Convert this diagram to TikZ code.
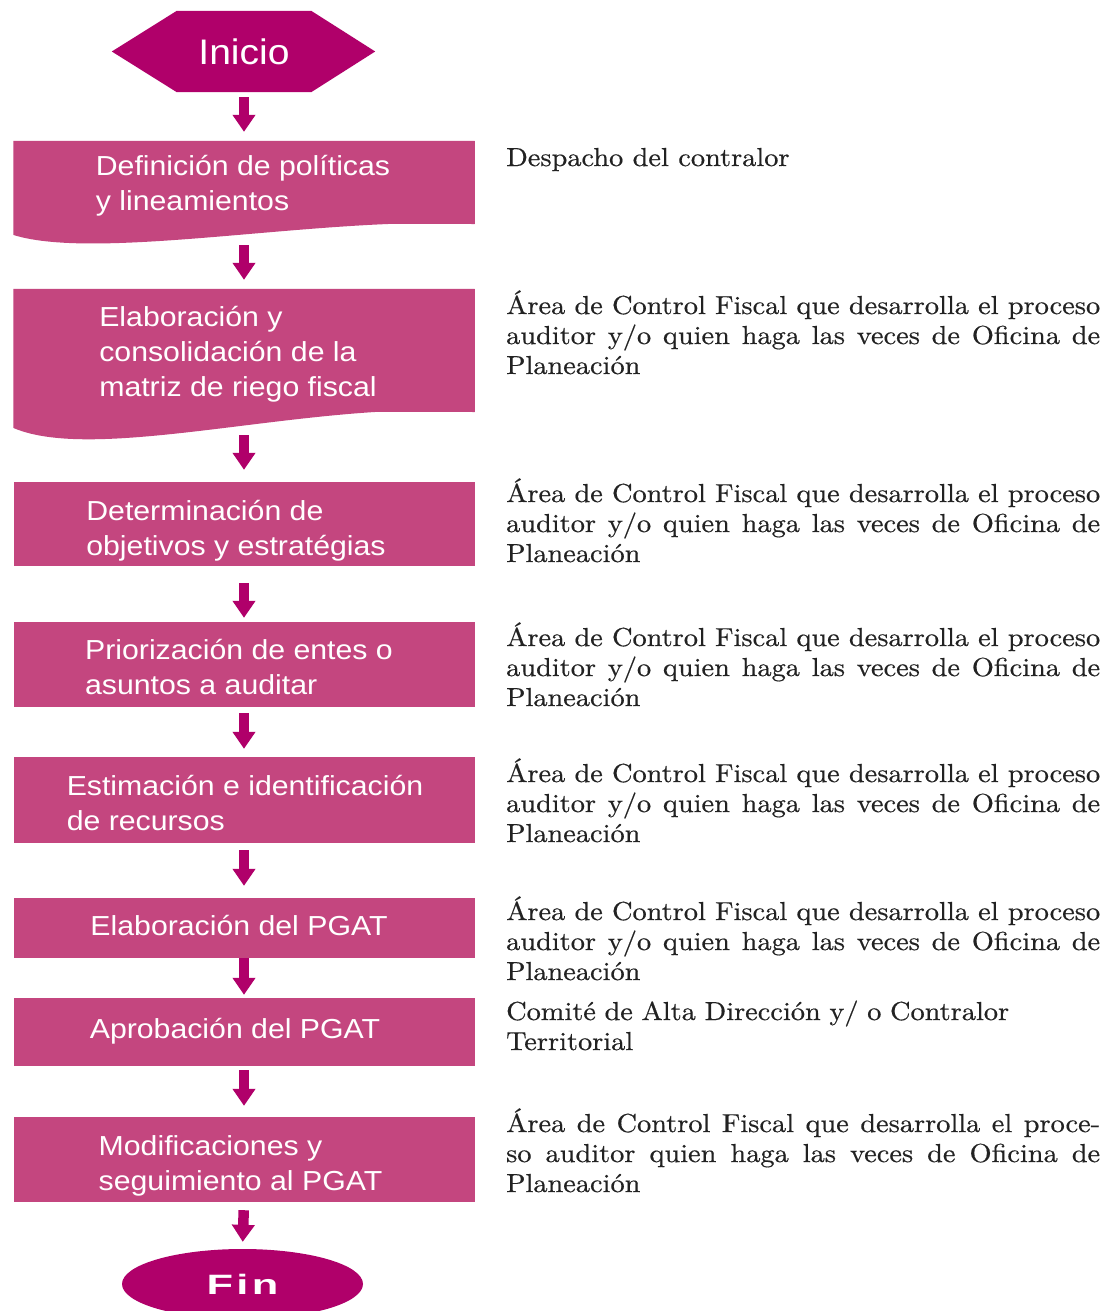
\documentclass[tikz,border=0pt]{standalone}
\usepackage{fontspec}
\newfontfamily\boxfont{Liberation Sans}[FakeStretch=1.1]
\newfontfamily\finfont{Liberation Sans}[FakeStretch=1.55,LetterSpace=12]
\newfontfamily\notefont{lmroman10-regular.otf}[FakeStretch=1.09,FakeBold=0.5]
\usetikzlibrary{arrows.meta,backgrounds,shapes.geometric}
\definecolor{magdark}{HTML}{B0006A}
\definecolor{magbox}{HTML}{C4467F}
\definecolor{inkgray}{HTML}{222222}

\begin{document}
\begin{tikzpicture}[x=1pt,y=-1pt,
  stepbox/.style={fill=magbox, minimum width=461pt, inner sep=0pt},
  boxtext/.style={inner sep=0pt, text=white, align=left,
    font=\boxfont\fontsize{27.5}{35}\selectfont},
  flow/.style={magdark, line width=10.5pt, -{Triangle[length=17pt,width=22pt]}},
  note/.style={anchor=base west, inner sep=0pt, text=inkgray, text width=594pt,
    align=justify, font=\notefont\fontsize{26}{30}\selectfont},
]
\useasboundingbox (0,0) rectangle (1106,1311);
\clip (0,0) rectangle (1106,1311);

% start terminal
\node[name=ini, minimum width=134pt, minimum height=81pt, inner sep=0pt, text=white,
  font=\boxfont\fontsize{35.5}{40}\selectfont] at (244,51.5) {Inicio};

% process steps
\node[stepbox, name=b1, minimum height=83pt,
  label={[boxtext, xshift=-1pt, yshift=-3pt]center:{Definición de políticas\\y lineamientos}}]
  at (244,182.5) {};
\node[stepbox, name=b2, minimum height=123pt,
  label={[boxtext, xshift=-6pt, yshift=-4pt]center:{Elaboración y\\consolidación de la\\matriz de riego fiscal}}]
  at (244,350.5) {};
\node[stepbox, name=b3, minimum height=84pt,
  label={[boxtext, xshift=-8pt, yshift=-7pt]center:{Determinación de\\objetivos y estratégias}}]
  at (244,524) {};
\node[stepbox, name=b4, minimum height=85pt,
  label={[boxtext, xshift=-5pt, yshift=-3pt]center:{Priorización de entes o\\asuntos a auditar}}]
  at (244,664.5) {};
\node[stepbox, name=b5, minimum height=86pt,
  label={[boxtext, xshift=1pt, yshift=-3pt]center:{Estimación e identificación\\de recursos}}]
  at (244,800) {};
\node[stepbox, name=b6, minimum height=60pt,
  label={[boxtext, xshift=-5pt, yshift=3pt]center:{Elaboración del PGAT}}]
  at (244,928) {};
\node[stepbox, name=b7, minimum height=68pt,
  label={[boxtext, xshift=-9pt, yshift=1pt]center:{Aprobación del PGAT}}]
  at (244,1032) {};
\node[stepbox, name=b8, minimum height=85pt,
  label={[boxtext, xshift=-3.5pt, yshift=-6pt]center:{Modificaciones y\\seguimiento al PGAT}}]
  at (244,1159.5) {};

% end terminal
\node[name=fin, ellipse, fill=magdark, minimum width=241pt, minimum height=70pt, inner sep=0pt,
  text=white, font=\finfont\bfseries\fontsize{28}{30}\selectfont] at (242.5,1284) {Fin};

% hexagon behind the start label, wavy bottoms of the document steps
\begin{scope}[on background layer]
  \fill[white] (0,0) rectangle (1106,1311);
  \fill[magdark] (ini.north west) -- (ini.north east) -- ([xshift=64pt]ini.east)
    -- (ini.south east) -- (ini.south west) -- ([xshift=-65pt]ini.west) -- cycle;
  \fill[magbox] (b1.north west) -- (b1.north east) -- (b1.south east)
    .. controls (330,215) and (100,262) .. (13.5,235) -- cycle;
  \fill[magbox] (b2.north west) -- (b2.north east) -- (b2.south east)
    .. controls (320,398) and (100,465) .. (13.5,428) -- cycle;
\end{scope}

% connectors
\draw[flow, shorten <=5pt,  shorten >=9pt]  (ini.south) -- (b1.north);
\draw[flow, shorten <=21pt, shorten >=9pt]  (b1.south)  -- (b2.north);
\draw[flow, shorten <=23pt, shorten >=12pt] (b2.south)  -- (b3.north);
\draw[flow, shorten <=17pt, shorten >=4pt]  (b3.south)  -- (b4.north);
\draw[flow, shorten <=6pt,  shorten >=8pt]  (b4.south)  -- (b5.north);
\draw[flow, shorten <=7pt,  shorten >=12pt] (b5.south)  -- (b6.north);
\draw[flow, shorten <=0pt,  shorten >=3pt]  (b6.south)  -- (b7.north);
\draw[flow, shorten <=4pt,  shorten >=11pt] (b7.south)  -- (b8.north);
\draw[flow, shorten <=8pt,  shorten >=7pt]  (b8.south)  -- (fin.north);

% responsible units
\node[note, name=r1] at (506,166)  {Despacho del contralor};
\node[note, name=r2] at (506,314)  {Área de Control Fiscal que desarrolla el proceso\linebreak auditor y/o quien haga las veces de Oficina de\linebreak Planeación};
\node[note, name=r3] at (506,502)  {Área de Control Fiscal que desarrolla el proceso\linebreak auditor y/o quien haga las veces de Oficina de\linebreak Planeación};
\node[note, name=r4] at (506,646)  {Área de Control Fiscal que desarrolla el proceso\linebreak auditor y/o quien haga las veces de Oficina de\linebreak Planeación};
\node[note, name=r5] at (506,782)  {Área de Control Fiscal que desarrolla el proceso\linebreak auditor y/o quien haga las veces de Oficina de\linebreak Planeación};
\node[note, name=r6] at (506,920)  {Área de Control Fiscal que desarrolla el proceso\linebreak auditor y/o quien haga las veces de Oficina de\linebreak Planeación};
\node[note, name=r7, align=left] at (506,1020) {Comité de Alta Dirección y/ o Contralor\\Territorial};
\node[note, name=r8] at (506,1132) {Área de Control Fiscal que desarrolla el proce-\linebreak so auditor quien haga las veces de Oficina de\linebreak Planeación};
\end{tikzpicture}
\end{document}
